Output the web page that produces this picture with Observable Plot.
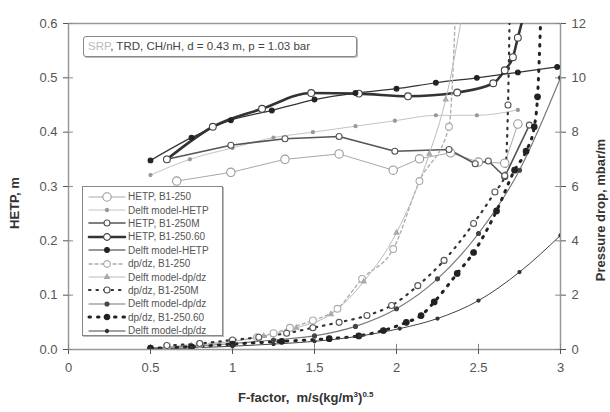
<!DOCTYPE html>
<html><head><meta charset="utf-8">
<script src="https://cdn.jsdelivr.net/npm/d3@7"></script>
<script src="https://cdn.jsdelivr.net/npm/@observablehq/plot@0.6"></script>
<style>
body{margin:0;background:#fff;font-family:Arial,"Liberation Sans",sans-serif;}
#wrap{position:relative;width:610px;height:412px;overflow:hidden;}
#wrap > svg{position:absolute;left:0;top:0;}
.lab{position:absolute;font-weight:bold;font-size:13px;color:#333;white-space:nowrap;}
#legend{position:absolute;left:82px;top:186px;width:141px;height:150px;border:1.5px solid #888;box-shadow:1px 1px 0 #bbb;background:#fff;padding-top:3px;box-sizing:border-box;}
.row{height:13.4px;display:flex;align-items:center;font-size:10px;color:#555;white-space:nowrap;}
.row svg{display:block;margin-left:4px;margin-right:1px;flex:none;}
#title{position:absolute;left:83px;top:36px;width:274px;height:21px;border:1.5px solid #888;border-radius:3px;box-shadow:1px 1px 0 #bbb;box-sizing:border-box;font-size:11.5px;color:#444;line-height:18px;padding-left:4px;background:#fff;white-space:nowrap;}
</style></head>
<body><div id="wrap"></div>
<script>
// ---------- data ----------
const xTicks = [0, 0.5, 1, 1.5, 2, 2.5, 3];
const hetpTicks = [0, 0.1, 0.2, 0.3, 0.4, 0.5, 0.6];
const dpTickLabels = ["0", "2", "4", "6", "8", "10", "12"];

// HETP, B1-250
const F_hetp250 = [0.66, 0.99, 1.32, 1.65, 1.98, 2.14, 2.33, 2.5, 2.66, 2.74];
const H_hetp250 = [0.31, 0.326, 0.35, 0.36, 0.33, 0.351, 0.362, 0.345, 0.343, 0.415];
// Delft model-HETP (light)
const F_delftH1 = [0.5, 0.74, 1.0, 1.25, 1.49, 1.75, 1.99, 2.24, 2.49, 2.74];
const H_delftH1 = [0.321, 0.35, 0.371, 0.39, 0.4, 0.411, 0.421, 0.431, 0.431, 0.441];
// HETP, B1-250M
const F_hetp250M = [0.6, 0.99, 1.32, 1.65, 1.99, 2.32, 2.48, 2.56, 2.66, 2.81];
const H_hetp250M = [0.35, 0.376, 0.388, 0.392, 0.365, 0.368, 0.342, 0.347, 0.318, 0.413];
// HETP, B1-250.60
const F_hetp25060 = [0.6, 0.88, 1.18, 1.48, 1.77, 2.07, 2.37, 2.59, 2.66, 2.71, 2.74, 2.78];
const H_hetp25060 = [0.35, 0.41, 0.443, 0.472, 0.471, 0.466, 0.473, 0.49, 0.514, 0.538, 0.574, 0.62];
// Delft model-HETP (dark)
const F_delftH2 = [0.5, 0.75, 0.99, 1.24, 1.5, 1.75, 2.0, 2.24, 2.49, 2.74, 2.98];
const H_delftH2 = [0.348, 0.39, 0.422, 0.44, 0.46, 0.472, 0.48, 0.491, 0.5, 0.51, 0.52];
// dp/dz, B1-250 (mbar/m)
const F_dp250 = [0.6, 0.8, 1.0, 1.15, 1.25, 1.35, 1.49, 1.64, 1.79, 1.98, 2.14, 2.32, 2.36];
const P_dp250 = [0.1, 0.2, 0.3, 0.45, 0.6, 0.8, 1.07, 1.5, 2.6, 3.7, 6.2, 8.2, 12.5];
// Delft model-dp/dz (light)
const F_delftP1 = [0.5, 0.75, 1.0, 1.19, 1.39, 1.6, 1.8, 2.0, 2.2, 2.3, 2.4];
const P_delftP1 = [0.05, 0.15, 0.3, 0.5, 0.8, 1.3, 2.5, 4.3, 7.2, 9.2, 12.3];
// dp/dz, B1-250M
const F_dp250M = [0.6, 0.8, 1.0, 1.16, 1.33, 1.49, 1.65, 1.82, 1.97, 2.13, 2.29, 2.47, 2.6, 2.66, 2.68, 2.69];
const P_dp250M = [0.15, 0.22, 0.35, 0.45, 0.6, 0.8, 1.0, 1.25, 1.62, 2.35, 3.28, 4.64, 5.8, 6.4, 9.0, 12.3];
// Delft model-dp/dz (medium)
const F_delftP2 = [0.5, 0.75, 1.0, 1.25, 1.5, 1.75, 2.0, 2.25, 2.5, 2.75, 3.0];
const P_delftP2 = [0.05, 0.12, 0.22, 0.35, 0.5, 0.85, 1.5, 2.6, 4.27, 6.6, 10.0];
// dp/dz, B1-250.60
const F_dp25060 = [0.5, 0.75, 1.0, 1.3, 1.59, 1.77, 1.92, 2.06, 2.15, 2.23, 2.37, 2.47, 2.61, 2.72, 2.79, 2.84, 2.86, 2.88];
const P_dp25060 = [0.05, 0.1, 0.2, 0.3, 0.4, 0.5, 0.7, 1.0, 1.25, 1.75, 2.8, 3.57, 5.1, 6.6, 7.3, 8.2, 9.3, 12.3];
// Delft model-dp/dz (dark)
const F_delftP3 = [0.5, 0.75, 1.0, 1.25, 1.5, 1.78, 2.02, 2.25, 2.5, 2.75, 3.0];
const P_delftP3 = [0.02, 0.06, 0.12, 0.2, 0.3, 0.5, 0.77, 1.14, 1.8, 2.85, 4.2];

const legendNames = ["HETP, B1-250", "Delft model-HETP", "HETP, B1-250M", "HETP, B1-250.60", "Delft model-HETP",
  "dp/dz, B1-250", "Delft model-dp/dz", "dp/dz, B1-250M", "Delft model-dp/dz", "dp/dz, B1-250.60", "Delft model-dp/dz"];

// ---------- styles ----------
const styles = [
  {F:F_hetp250, v:H_hetp250, ax:"h", stroke:"#a8a8a8", sw:1, dash:null, curve:"linear", sym:"circle", r:4.2, fill:"#fff", ms:"#999"},
  {F:F_delftH1, v:H_delftH1, ax:"h", stroke:"#c4c4c4", sw:1, dash:null, curve:"monotone-x", sym:"circle", r:1.6, fill:"#999", ms:"#999"},
  {F:F_hetp250M, v:H_hetp250M, ax:"h", stroke:"#555", sw:1.6, dash:null, curve:"linear", sym:"circle", r:3, fill:"#fff", ms:"#555"},
  {F:F_hetp25060, v:H_hetp25060, ax:"h", stroke:"#333", sw:2.6, dash:null, curve:"monotone-x", sym:"circle", r:3.4, fill:"#fff", ms:"#444"},
  {F:F_delftH2, v:H_delftH2, ax:"h", stroke:"#333", sw:1.2, dash:null, curve:"monotone-x", sym:"circle", r:2.4, fill:"#222", ms:"#222"},
  {F:F_dp250, v:P_dp250, ax:"p", stroke:"#aaa", sw:1.3, dash:"3,3", curve:"monotone-x", sym:"circle", r:3.4, fill:"#fff", ms:"#aaa"},
  {F:F_delftP1, v:P_delftP1, ax:"p", stroke:"#bbb", sw:1, dash:null, curve:"monotone-x", sym:"triangle", r:1.8, fill:"#aaa", ms:"#aaa"},
  {F:F_dp250M, v:P_dp250M, ax:"p", stroke:"#333", sw:2.2, dash:"1.5,6", curve:"monotone-x", sym:"circle", r:3, fill:"#fff", ms:"#555"},
  {F:F_delftP2, v:P_delftP2, ax:"p", stroke:"#777", sw:1.2, dash:null, curve:"monotone-x", sym:"circle", r:2, fill:"#444", ms:"#444"},
  {F:F_dp25060, v:P_dp25060, ax:"p", stroke:"#222", sw:3, dash:"1.5,7", curve:"monotone-x", sym:"circle", r:2.8, fill:"#222", ms:"#222"},
  {F:F_delftP3, v:P_delftP3, ax:"p", stroke:"#444", sw:1, dash:null, curve:"monotone-x", sym:"circle", r:1.6, fill:"#333", ms:"#333"}
];

const rows = styles.map((s, i) => s.F.map((f, j) => ({f, y: s.ax === "h" ? s.v[j] : s.v[j] / 20, s: i})));

const marks = [
  Plot.frame({stroke: "#999", strokeWidth: 1.5}),
  Plot.axisX({ticks: xTicks, tickFormat: d => String(d), tickSize: 5, tickPadding: 8, fontSize: 13, label: null}),
  Plot.axisY({ticks: hetpTicks, tickFormat: d3.format(".1f"), tickSize: 5, tickPadding: 6, fontSize: 13, label: null}),
  Plot.axisY({anchor: "right", ticks: hetpTicks, tickFormat: (d, i) => dpTickLabels[i], tickSize: 5, tickPadding: 6, fontSize: 13, label: null}),
  Plot.ruleX(xTicks, {x: d => d, y1: 0, y2: 0.0095, stroke: "#888"}),
  Plot.ruleY(hetpTicks, {y: d => d, x1: 0, x2: 0.03, stroke: "#888"}),
  Plot.ruleY(hetpTicks, {y: d => d, x1: 2.97, x2: 3, stroke: "#888"})
];
styles.forEach((s, i) => {
  marks.push(Plot.line(rows[i], {x: "f", y: "y", stroke: s.stroke, strokeWidth: s.sw, strokeDasharray: s.dash, strokeLinecap: "round", curve: s.curve, clip: true}));
});
styles.forEach((s, i) => {
  marks.push(Plot.dot(rows[i], {x: "f", y: "y", r: s.r, fill: s.fill, stroke: s.ms, strokeWidth: 1.1, symbol: s.sym, clip: true}));
});

const chart = Plot.plot({
  width: 610, height: 412,
  marginLeft: 68, marginRight: 50, marginTop: 23, marginBottom: 63,
  x: {domain: [0, 3]},
  y: {domain: [0, 0.6]},
  style: {color: "#555", fontFamily: "Arial, 'Liberation Sans', sans-serif", background: "transparent"},
  marks
});
const wrap = document.getElementById("wrap");
wrap.appendChild(chart);

// axis labels
const lx = document.createElement("div");
lx.className = "lab";
lx.innerHTML = "F-factor,&nbsp; m/s(kg/m<sup style='font-size:8px'>3</sup>)<sup style='font-size:8px'>0.5</sup>";
lx.style.left = "238px"; lx.style.top = "390px";
wrap.appendChild(lx);
const ly = document.createElement("div");
ly.className = "lab";
ly.textContent = "HETP,  m";
ly.style.left = "14px"; ly.style.top = "203px";
ly.style.transform = "translate(-50%,-50%) rotate(-90deg)";
wrap.appendChild(ly);
const ry = document.createElement("div");
ry.className = "lab";
ry.textContent = "Pressure drop,  mbar/m";
ry.style.left = "600px"; ry.style.top = "210px";
ry.style.transform = "translate(-50%,-50%) rotate(-90deg)";
wrap.appendChild(ry);

// title box
const tb = document.createElement("div");
tb.id = "title";
tb.innerHTML = "<span style='color:#bbb'>SRP</span>, TRD, CH/nH, d = 0.43 m, p = 1.03 bar";
wrap.appendChild(tb);

// legend
const lg = document.createElement("div");
lg.id = "legend";
styles.forEach((s, i) => {
  const row = document.createElement("div");
  row.className = "row";
  const ns = "http://www.w3.org/2000/svg";
  const sv = document.createElementNS(ns, "svg");
  sv.setAttribute("width", 40); sv.setAttribute("height", 12);
  const ln = document.createElementNS(ns, "line");
  ln.setAttribute("x1", 2); ln.setAttribute("x2", 38); ln.setAttribute("y1", 6); ln.setAttribute("y2", 6);
  ln.setAttribute("stroke", s.stroke); ln.setAttribute("stroke-width", s.sw);
  ln.setAttribute("stroke-linecap", "round");
  if (s.dash) ln.setAttribute("stroke-dasharray", s.dash);
  sv.appendChild(ln);
  const sym = d3.symbol(s.sym === "triangle" ? d3.symbolTriangle : d3.symbolCircle, Math.PI * s.r * s.r)();
  const pth = document.createElementNS(ns, "path");
  pth.setAttribute("d", sym); pth.setAttribute("transform", "translate(20,6)");
  pth.setAttribute("fill", s.fill); pth.setAttribute("stroke", s.ms); pth.setAttribute("stroke-width", 1.1);
  sv.appendChild(pth);
  row.appendChild(sv);
  const t = document.createElement("span");
  t.textContent = legendNames[i];
  row.appendChild(t);
  lg.appendChild(row);
});
wrap.appendChild(lg);
</script></body></html>
